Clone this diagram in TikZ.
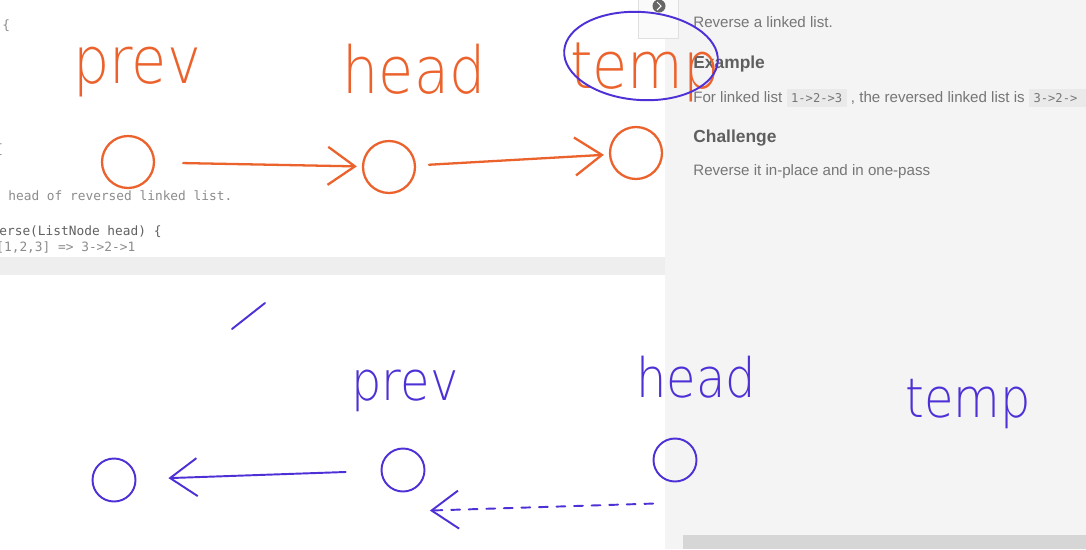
\documentclass[tikz,border=0pt]{standalone}
\usepackage{fontspec}
\usetikzlibrary{arrows.meta, shapes.geometric}
\newfontfamily\uifont{Liberation Sans}
\newfontfamily\codefont{DejaVu Sans Mono}
\newfontfamily\handfont[FakeStretch=0.88]{DejaVu Sans ExtraLight}
\definecolor{handorange}{RGB}{236,98,44}
\definecolor{handblue}{RGB}{78,48,214}
\definecolor{uigray}{RGB}{118,118,118}
\definecolor{headgray}{RGB}{95,95,95}
\definecolor{codegray}{RGB}{140,140,140}
\definecolor{panelgray}{RGB}{244,244,244}
\definecolor{bandgray}{RGB}{238,238,238}
\definecolor{bargray}{RGB}{214,214,214}
\definecolor{chipgray}{RGB}{234,234,234}
\newcommand{\codechip}[1]{{\setlength{\fboxsep}{2.6pt}\colorbox{chipgray}{\codefont\fontsize{6.9pt}{8pt}\selectfont #1}}}
\tikzset{
onode/.style={shape=circle, minimum size=1.04cm, inner sep=0, draw=handorange, line width=1.3pt}, bnode/.style={shape=circle, minimum size=0.86cm, inner sep=0, draw=handblue, line width=1.1pt},
olabel/.style={anchor=base, inner sep=0, text=handorange, font=\handfont\fontsize{37pt}{37pt}\selectfont}, blabel/.style={olabel, text=handblue, font=\handfont\fontsize{31pt}{31pt}\selectfont},
oarrow/.style={draw=handorange, line width=1.3pt, line cap=round, -{Straight Barb[length=5.4mm, width=7.6mm]}}, barrow/.style={oarrow, draw=handblue, line width=1.1pt},
bstroke/.style={draw=handblue, line width=1.1pt, line cap=round},
ring/.style={ellipse, draw=handblue, line width=1.1pt, minimum width=3.08cm, minimum height=1.76cm, inner sep=0},
uitext/.style={anchor=west, inner sep=0, text=uigray, font=\uifont\fontsize{8.6pt}{10pt}\selectfont}, uihead/.style={uitext, text=headgray, font=\uifont\bfseries\fontsize{9.9pt}{12pt}\selectfont},
codetext/.style={anchor=west, inner sep=0, text=codegray, font=\codefont\fontsize{7.3pt}{9pt}\selectfont}}
\begin{document}
\begin{tikzpicture}[x=0.02cm, y=-0.02cm]
\useasboundingbox (0,0) rectangle (1086,549);
\clip (0,0) rectangle (1086,549);
% editor and problem panels
\fill [white] (0,0) rectangle (665,549);
\fill [bandgray] (0,257) rectangle (665,275);
\fill [panelgray] (665,0) rectangle (1086,549);
\fill [bargray] (683,535) rectangle (1086,549);
\draw [fill=white!50!panelgray, draw=black!12] (638,-4) rectangle (678,38);
\node [circle, fill=black!60, minimum size=0.26cm, inner sep=0] at (659,6) (tab-icon) {};
\draw [white, line width=0.6pt] (657,2) -- (661,6) -- (657,10);
% code fragments
\node [codetext] at (2,26) (brace-1) {\{};
\node [codetext] at (-5,150) (brace-2) {\{};
\node [codetext] at (8,196) (code-1) {head of reversed linked list.};
\node [codetext, text=black!62] at (-1,232) (code-2) {erse(ListNode head) \{};
\node [codetext] at (-4,248) (code-3) {[1,2,3] => 3->2->1};
% problem text
\node [uitext] at (693,22) (task) {Reverse a linked list.};
\node [uihead] at (693,64) (ex-head) {Example};
\node [uitext] at (693,98) (ex-text) {For linked list \codechip{1->2->3} , the reversed linked list is \codechip{3->2->\hspace{6pt}}};
\node [uihead] at (693,138) (ch-head) {Challenge};
\node [uitext] at (693,172) (ch-text) {Reverse it in-place and in one-pass};
% first sketch: prev -> head -> temp
\foreach \lbl/\cx/\cy/\lx/\ly/\gap [count=\j, evaluate={\jj=int(\j-1);}] in {prev/128/162/137/83/0, head/389/167/414/93/0.56, temp/636/153/645/88/0.26}{
      \node [onode] at (\cx, \cy) (o-\j) {};
      \node [olabel] at (\lx, \ly) (ol-\j) {\lbl};
      \ifnum\j>1
          \draw [oarrow, shorten <=\gap cm, shorten >=0.1cm] (o-\jj) -- (o-\j);
      \fi
}
\node [ring, rotate=-4] at (641,56) (temp-ring) {};
% second sketch: reversed links
\foreach \cx/\cy [count=\j] in {114/480, 403/470, 675/460}
      \node [bnode] at (\cx, \cy) (b-\j) {};
\foreach \lbl/\lx/\ly in {prev/405/400, head/696/397, temp/968/417}
      \node [blabel] at (\lx, \ly) (bl-\lbl) {\lbl};
\draw [barrow, shorten <=0.7cm, shorten >=0.64cm] (b-2) -- (b-1);
\draw [barrow, dash pattern=on 5pt off 5pt, shorten <=0.12cm, shorten >=0.22cm] ([yshift=-0.55cm]b-3.south west) -- ([yshift=-0.5cm]b-2.south east);
\draw [bstroke] (232,329) -- (265,303);
\end{tikzpicture}
\end{document}
